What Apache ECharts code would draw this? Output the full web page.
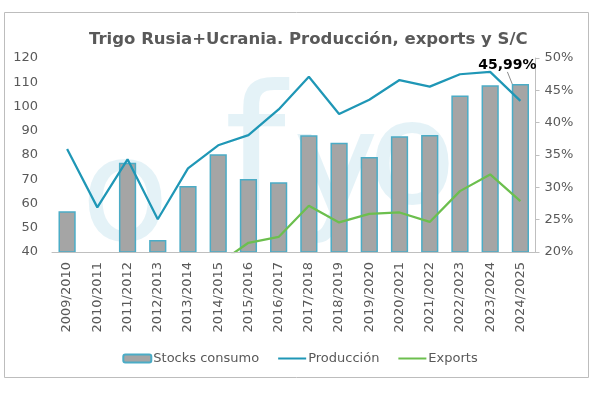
<!DOCTYPE html>
<html>
<head>
<meta charset="utf-8">
<script src="https://cdn.jsdelivr.net/npm/echarts@6/dist/echarts.min.js"></script>
<style>html,body{margin:0;padding:0;background:#fff;}#c{width:600px;height:393px;}</style>
</head>
<body>
<div id="c"></div>
<script>
const categories = ['2009/2010','2010/2011','2011/2012','2012/2013','2013/2014','2014/2015','2015/2016','2016/2017','2017/2018','2018/2019','2019/2020','2020/2021','2021/2022','2022/2023','2023/2024','2024/2025'];
const stocksConsumo = [26.3, null, 33.8, 21.85, 30.2, 35.1, 31.3, 30.8, 38.05, 36.9, 34.7, 37.9, 38.1, 44.2, 45.8, 45.99];
const produccion = [82.5, 58.4, 78.2, 53.5, 74.5, 84.0, 88.2, 98.8, 112.3, 96.9, 102.8, 110.9, 108.2, 113.3, 114.3, 102.3];
const exportsData = [null, null, null, null, null, 35.1, 43.8, 46.2, 59.1, 52.2, 55.7, 56.3, 52.4, 65.1, 72.0, 61.0];
const leftTicks = {min: 40, max: 120, interval: 10};
const rightTicks = {min: 20, max: 50, interval: 5};

const FONT = 'DejaVu Sans';
const GREY = '#595959';
const chart = echarts.init(document.getElementById('c'), null, {renderer: 'canvas'});

const barData = stocksConsumo.map((v, i) => {
  if (i === stocksConsumo.length - 1) {
    return {
      value: v,
      label: {
        show: true,
        position: 'top',
        formatter: (p) => p.value.toFixed(2).replace('.', ',') + '%',
        fontFamily: FONT, fontWeight: 'bold', fontSize: 14, color: '#000'
      },
      labelLine: {show: true, lineStyle: {color: '#8c8c8c', width: 1}}
    };
  }
  return v;
});

const wmFill = 'rgba(185,222,234,0.38)';
const wmFont = '145px DejaVu Sans';

chart.setOption({
  animation: false,
  backgroundColor: '#fff',
  textStyle: {fontFamily: FONT},
  title: {
    text: 'Trigo Rusia+Ucrania. Producción, exports y S/C',
    left: 84, top: 26,
    textStyle: {fontFamily: FONT, fontWeight: 'bold', fontSize: 16.5, color: GREY}
  },
  graphic: [
    {type: 'rect', silent: true, z: -10, shape: {x: 4.5, y: 12.5, width: 584, height: 365}, style: {fill: 'none', stroke: '#BDBDBD', lineWidth: 1}},
    {type: 'rect', silent: true, zlevel: 1, z: 1, shape: {x: 40, y: 253.5, width: 500, height: 14}, style: {fill: '#fff'}},
    {type: 'group', silent: true, z: 40, children: [
      {type: 'text', silent: true, style: {x: 125, y: 202, text: 'o', font: wmFont, fill: wmFill, align: 'center', verticalAlign: 'middle'}},
      {type: 'text', silent: true, style: {x: 255, y: 165, text: 'f', font: '175px DejaVu Sans', fill: wmFill, align: 'center', verticalAlign: 'middle'}},
      {type: 'text', silent: true, style: {x: 336, y: 175, text: 'y', font: wmFont, fill: wmFill, align: 'center', verticalAlign: 'middle'}},
      {type: 'text', silent: true, style: {x: 412, y: 165, text: 'o', font: wmFont, fill: wmFill, align: 'center', verticalAlign: 'middle'}}
    ]}
  ],
  legend: {
    bottom: 23, left: 'center',
    itemWidth: 28, itemHeight: 8, itemGap: 18,
    textStyle: {fontFamily: FONT, fontSize: 13, color: GREY, padding: [0, 0, 0, -3]},
    data: [
      {name: 'Stocks consumo'},
      {name: 'Producción', itemStyle: {opacity: 0}},
      {name: 'Exports', itemStyle: {opacity: 0}}
    ]
  },
  grid: {left: 52, right: 64.5, top: 58, bottom: 141, containLabel: false},
  xAxis: {
    type: 'category',
    data: categories,
    boundaryGap: true,
    zlevel: 2,
    axisLine: {show: true, lineStyle: {color: '#BFBFBF', width: 1}},
    axisTick: {show: false},
    axisLabel: {rotate: 90, interval: 0, margin: 10, fontFamily: FONT, fontSize: 13, color: GREY}
  },
  yAxis: [
    {
      type: 'value', position: 'left',
      min: leftTicks.min, max: leftTicks.max, interval: leftTicks.interval,
      axisLine: {show: false}, axisTick: {show: false}, splitLine: {show: false},
      axisLabel: {margin: 14, fontFamily: FONT, fontSize: 13, color: GREY}
    },
    {
      type: 'value', position: 'right',
      min: rightTicks.min, max: rightTicks.max, interval: rightTicks.interval,
      axisLine: {show: true, lineStyle: {color: '#BFBFBF', width: 1}},
      axisTick: {show: true, length: 4, lineStyle: {color: '#BFBFBF'}},
      splitLine: {show: false},
      axisLabel: {margin: 9, formatter: '{value}%', fontFamily: FONT, fontSize: 13, color: GREY}
    }
  ],
  series: [
    {
      name: 'Stocks consumo', type: 'bar', yAxisIndex: 1,
      data: barData,
      barWidth: '57%',
      itemStyle: {color: '#A5A5A5', borderColor: '#4BACC6', borderWidth: 1.5},
      labelLayout: {dx: -13, dy: -7}
    },
    {
      name: 'Producción', type: 'line', yAxisIndex: 0,
      data: produccion,
      symbol: 'none', smooth: false,
      lineStyle: {color: '#1F97B6', width: 2.25},
      itemStyle: {color: '#1F97B6'}
    },
    {
      name: 'Exports', type: 'line', yAxisIndex: 0,
      data: exportsData,
      symbol: 'none', smooth: false, clip: true,
      lineStyle: {color: '#6CBF4E', width: 2.25},
      itemStyle: {color: '#6CBF4E'}
    }
  ]
});
</script>
</body>
</html>
